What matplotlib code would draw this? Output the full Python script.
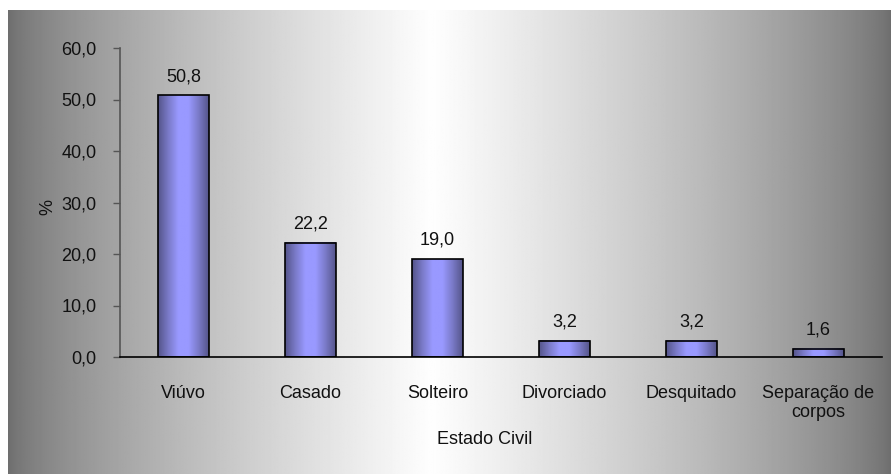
import matplotlib
matplotlib.use("Agg")
import matplotlib.pyplot as plt
import numpy as np
from matplotlib.colors import LinearSegmentedColormap
from matplotlib.patches import Rectangle

categories = ["Viúvo", "Casado", "Solteiro", "Divorciado", "Desquitado",
              "Separação de\ncorpos"]
values = [50.8, 22.2, 19.0, 3.2, 3.2, 1.6]
yticks = [0, 10, 20, 30, 40, 50, 60]

plt.rcParams.update({"font.family": ["Liberation Sans", "DejaVu Sans"],
                     "font.size": 13})

W, H = 891, 474
fig = plt.figure(figsize=(W / 100, H / 100), dpi=100, facecolor="white")

# background: gray -> white -> gray horizontal gradient
bg = fig.add_axes([8 / W, 0, 1 - 8 / W, (H - 10) / H])
bg.set_axis_off()
x = np.linspace(0, 1, 800)
peak = 0.48
g = np.where(x < peak, x / peak, (1 - x) / (1 - peak)) ** 0.72
level = (110 + g * 144) / 255
grad = np.tile(level, (2, 1))
bg.imshow(grad, cmap="gray", vmin=0, vmax=1, aspect="auto",
          extent=[0, 1, 0, 1])
bg.set_xlim(0, 1); bg.set_ylim(0, 1)

ax = fig.add_axes([120 / W, (H - 357) / H, 762 / W, 309 / H])
ax.patch.set_alpha(0)

bar_cmap = LinearSegmentedColormap.from_list(
    "bar", ["#55558a", "#7a7ac8", "#9999ff", "#9999ff", "#7a7ac8", "#55558a"])
shade = np.linspace(0, 1, 100).reshape(1, -1)
bw = 0.4
for i, v in enumerate(values):
    ax.imshow(shade, cmap=bar_cmap, aspect="auto",
              extent=[i - bw / 2, i + bw / 2, 0, v], zorder=2)
    ax.add_patch(Rectangle((i - bw / 2, 0), bw, v, fill=False,
                           edgecolor="black", lw=1.2, zorder=3))
    ax.text(i, v + 2.0, f"{v:.1f}".replace(".", ","), ha="center",
            va="bottom", color="#111")

ax.set_xlim(-0.5, len(values) - 0.5)
ax.set_ylim(0, 60)
ax.set_xticks(range(len(categories)))
ax.set_xticklabels(categories, color="#111", linespacing=1.2)
ax.tick_params(axis="x", length=0, pad=20)
ax.set_yticks(yticks)
ax.set_yticklabels([f"{t:.1f}".replace(".", ",") for t in yticks],
                   color="#111")
ax.tick_params(axis="y", direction="out", length=5, width=1,
               color="#555", pad=12)
for s in ["top", "right"]:
    ax.spines[s].set_visible(False)
ax.spines["left"].set_color("#555")
ax.spines["left"].set_linewidth(1.2)
ax.spines["bottom"].set_color("black")
ax.spines["bottom"].set_linewidth(1.2)

fig.text(485 / W, 1 - 440 / H, "Estado Civil", ha="center", va="center",
         color="#111")
fig.text(48 / W, 1 - 207 / H, "%", ha="center", va="center", rotation=90,
         color="#111")

fig.savefig("out.png", dpi=100, facecolor="white")
